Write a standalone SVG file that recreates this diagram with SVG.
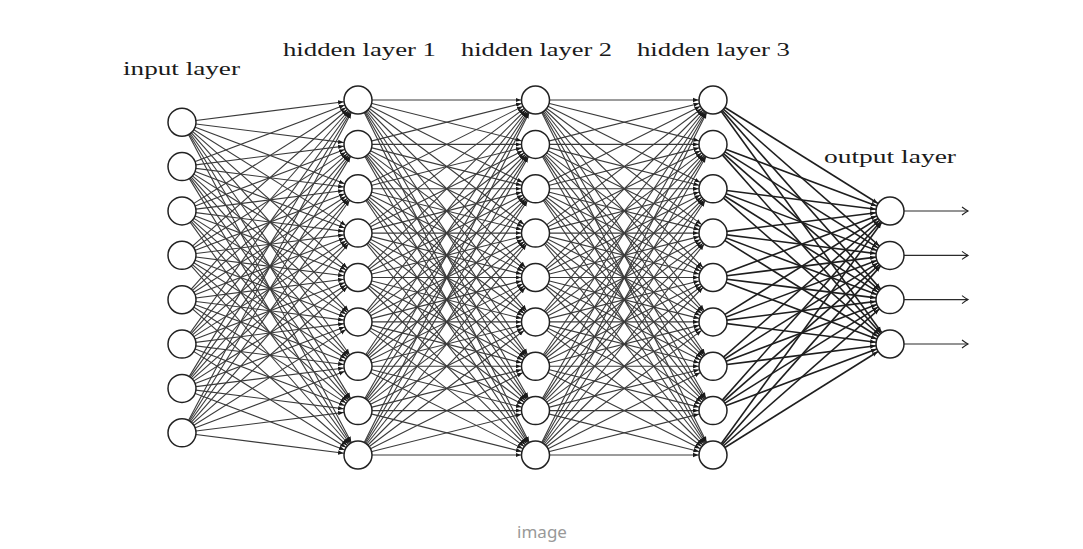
<svg xmlns="http://www.w3.org/2000/svg" width="1083" height="549" viewBox="0 0 1083 549">
<style>
.e path{fill:none;stroke:#3a3a3a;stroke-width:1.1;marker-end:url(#ah)}
.e2 path{fill:none;stroke:#1e1e1e;stroke-width:1.6;marker-end:url(#ah)}
.o path{fill:none;stroke:#2b2b2b;stroke-width:1.1;marker-end:url(#oa)}
.n circle{fill:#fff;stroke:#222;stroke-width:1.5}
.lbl{font-family:"Liberation Serif","DejaVu Serif",serif;font-size:18px;fill:#1a1a1a}
.cap{font-family:"Noto Sans","Liberation Sans",sans-serif;font-size:17px;fill:#999}
</style>
<defs>
<marker id="ah" markerUnits="userSpaceOnUse" markerWidth="20" markerHeight="6" viewBox="0 -3 20 6" refX="20" refY="0" orient="auto"><path d="M0,-2.2 L5.4,0 L0,2.2 z" fill="#1a1a1a"/></marker>
<marker id="oa" markerUnits="userSpaceOnUse" markerWidth="10" markerHeight="10" viewBox="-8 -5 10 10" refX="0" refY="0" orient="auto" overflow="visible"><path d="M-6,-4 Q-2,-1 0,0 Q-2,1 -6,4" fill="none" stroke="#222" stroke-width="1.1"/></marker>
</defs>
<rect width="1083" height="549" fill="#fff"/>
<g id="connectors">
<g class="e">
<path d="M182 122.2L358 100"/><path d="M182 122.2L358 144.4"/><path d="M182 122.2L358 188.8"/><path d="M182 122.2L358 233.1"/><path d="M182 122.2L358 277.5"/><path d="M182 122.2L358 321.9"/><path d="M182 122.2L358 366.3"/><path d="M182 122.2L358 410.6"/><path d="M182 122.2L358 455"/>
<path d="M182 166.6L358 100"/><path d="M182 166.6L358 144.4"/><path d="M182 166.6L358 188.8"/><path d="M182 166.6L358 233.1"/><path d="M182 166.6L358 277.5"/><path d="M182 166.6L358 321.9"/><path d="M182 166.6L358 366.3"/><path d="M182 166.6L358 410.6"/><path d="M182 166.6L358 455"/>
<path d="M182 210.9L358 100"/><path d="M182 210.9L358 144.4"/><path d="M182 210.9L358 188.8"/><path d="M182 210.9L358 233.1"/><path d="M182 210.9L358 277.5"/><path d="M182 210.9L358 321.9"/><path d="M182 210.9L358 366.3"/><path d="M182 210.9L358 410.6"/><path d="M182 210.9L358 455"/>
<path d="M182 255.3L358 100"/><path d="M182 255.3L358 144.4"/><path d="M182 255.3L358 188.8"/><path d="M182 255.3L358 233.1"/><path d="M182 255.3L358 277.5"/><path d="M182 255.3L358 321.9"/><path d="M182 255.3L358 366.3"/><path d="M182 255.3L358 410.6"/><path d="M182 255.3L358 455"/>
<path d="M182 299.7L358 100"/><path d="M182 299.7L358 144.4"/><path d="M182 299.7L358 188.8"/><path d="M182 299.7L358 233.1"/><path d="M182 299.7L358 277.5"/><path d="M182 299.7L358 321.9"/><path d="M182 299.7L358 366.3"/><path d="M182 299.7L358 410.6"/><path d="M182 299.7L358 455"/>
<path d="M182 344.1L358 100"/><path d="M182 344.1L358 144.4"/><path d="M182 344.1L358 188.8"/><path d="M182 344.1L358 233.1"/><path d="M182 344.1L358 277.5"/><path d="M182 344.1L358 321.9"/><path d="M182 344.1L358 366.3"/><path d="M182 344.1L358 410.6"/><path d="M182 344.1L358 455"/>
<path d="M182 388.4L358 100"/><path d="M182 388.4L358 144.4"/><path d="M182 388.4L358 188.8"/><path d="M182 388.4L358 233.1"/><path d="M182 388.4L358 277.5"/><path d="M182 388.4L358 321.9"/><path d="M182 388.4L358 366.3"/><path d="M182 388.4L358 410.6"/><path d="M182 388.4L358 455"/>
<path d="M182 432.8L358 100"/><path d="M182 432.8L358 144.4"/><path d="M182 432.8L358 188.8"/><path d="M182 432.8L358 233.1"/><path d="M182 432.8L358 277.5"/><path d="M182 432.8L358 321.9"/><path d="M182 432.8L358 366.3"/><path d="M182 432.8L358 410.6"/><path d="M182 432.8L358 455"/>

<path d="M358 100L535.5 100"/><path d="M358 100L535.5 144.4"/><path d="M358 100L535.5 188.8"/><path d="M358 100L535.5 233.1"/><path d="M358 100L535.5 277.5"/><path d="M358 100L535.5 321.9"/><path d="M358 100L535.5 366.3"/><path d="M358 100L535.5 410.6"/><path d="M358 100L535.5 455"/>
<path d="M358 144.4L535.5 100"/><path d="M358 144.4L535.5 144.4"/><path d="M358 144.4L535.5 188.8"/><path d="M358 144.4L535.5 233.1"/><path d="M358 144.4L535.5 277.5"/><path d="M358 144.4L535.5 321.9"/><path d="M358 144.4L535.5 366.3"/><path d="M358 144.4L535.5 410.6"/><path d="M358 144.4L535.5 455"/>
<path d="M358 188.8L535.5 100"/><path d="M358 188.8L535.5 144.4"/><path d="M358 188.8L535.5 188.8"/><path d="M358 188.8L535.5 233.1"/><path d="M358 188.8L535.5 277.5"/><path d="M358 188.8L535.5 321.9"/><path d="M358 188.8L535.5 366.3"/><path d="M358 188.8L535.5 410.6"/><path d="M358 188.8L535.5 455"/>
<path d="M358 233.1L535.5 100"/><path d="M358 233.1L535.5 144.4"/><path d="M358 233.1L535.5 188.8"/><path d="M358 233.1L535.5 233.1"/><path d="M358 233.1L535.5 277.5"/><path d="M358 233.1L535.5 321.9"/><path d="M358 233.1L535.5 366.3"/><path d="M358 233.1L535.5 410.6"/><path d="M358 233.1L535.5 455"/>
<path d="M358 277.5L535.5 100"/><path d="M358 277.5L535.5 144.4"/><path d="M358 277.5L535.5 188.8"/><path d="M358 277.5L535.5 233.1"/><path d="M358 277.5L535.5 277.5"/><path d="M358 277.5L535.5 321.9"/><path d="M358 277.5L535.5 366.3"/><path d="M358 277.5L535.5 410.6"/><path d="M358 277.5L535.5 455"/>
<path d="M358 321.9L535.5 100"/><path d="M358 321.9L535.5 144.4"/><path d="M358 321.9L535.5 188.8"/><path d="M358 321.9L535.5 233.1"/><path d="M358 321.9L535.5 277.5"/><path d="M358 321.9L535.5 321.9"/><path d="M358 321.9L535.5 366.3"/><path d="M358 321.9L535.5 410.6"/><path d="M358 321.9L535.5 455"/>
<path d="M358 366.3L535.5 100"/><path d="M358 366.3L535.5 144.4"/><path d="M358 366.3L535.5 188.8"/><path d="M358 366.3L535.5 233.1"/><path d="M358 366.3L535.5 277.5"/><path d="M358 366.3L535.5 321.9"/><path d="M358 366.3L535.5 366.3"/><path d="M358 366.3L535.5 410.6"/><path d="M358 366.3L535.5 455"/>
<path d="M358 410.6L535.5 100"/><path d="M358 410.6L535.5 144.4"/><path d="M358 410.6L535.5 188.8"/><path d="M358 410.6L535.5 233.1"/><path d="M358 410.6L535.5 277.5"/><path d="M358 410.6L535.5 321.9"/><path d="M358 410.6L535.5 366.3"/><path d="M358 410.6L535.5 410.6"/><path d="M358 410.6L535.5 455"/>
<path d="M358 455L535.5 100"/><path d="M358 455L535.5 144.4"/><path d="M358 455L535.5 188.8"/><path d="M358 455L535.5 233.1"/><path d="M358 455L535.5 277.5"/><path d="M358 455L535.5 321.9"/><path d="M358 455L535.5 366.3"/><path d="M358 455L535.5 410.6"/><path d="M358 455L535.5 455"/>

<path d="M535.5 100L713 100"/><path d="M535.5 100L713 144.4"/><path d="M535.5 100L713 188.8"/><path d="M535.5 100L713 233.1"/><path d="M535.5 100L713 277.5"/><path d="M535.5 100L713 321.9"/><path d="M535.5 100L713 366.3"/><path d="M535.5 100L713 410.6"/><path d="M535.5 100L713 455"/>
<path d="M535.5 144.4L713 100"/><path d="M535.5 144.4L713 144.4"/><path d="M535.5 144.4L713 188.8"/><path d="M535.5 144.4L713 233.1"/><path d="M535.5 144.4L713 277.5"/><path d="M535.5 144.4L713 321.9"/><path d="M535.5 144.4L713 366.3"/><path d="M535.5 144.4L713 410.6"/><path d="M535.5 144.4L713 455"/>
<path d="M535.5 188.8L713 100"/><path d="M535.5 188.8L713 144.4"/><path d="M535.5 188.8L713 188.8"/><path d="M535.5 188.8L713 233.1"/><path d="M535.5 188.8L713 277.5"/><path d="M535.5 188.8L713 321.9"/><path d="M535.5 188.8L713 366.3"/><path d="M535.5 188.8L713 410.6"/><path d="M535.5 188.8L713 455"/>
<path d="M535.5 233.1L713 100"/><path d="M535.5 233.1L713 144.4"/><path d="M535.5 233.1L713 188.8"/><path d="M535.5 233.1L713 233.1"/><path d="M535.5 233.1L713 277.5"/><path d="M535.5 233.1L713 321.9"/><path d="M535.5 233.1L713 366.3"/><path d="M535.5 233.1L713 410.6"/><path d="M535.5 233.1L713 455"/>
<path d="M535.5 277.5L713 100"/><path d="M535.5 277.5L713 144.4"/><path d="M535.5 277.5L713 188.8"/><path d="M535.5 277.5L713 233.1"/><path d="M535.5 277.5L713 277.5"/><path d="M535.5 277.5L713 321.9"/><path d="M535.5 277.5L713 366.3"/><path d="M535.5 277.5L713 410.6"/><path d="M535.5 277.5L713 455"/>
<path d="M535.5 321.9L713 100"/><path d="M535.5 321.9L713 144.4"/><path d="M535.5 321.9L713 188.8"/><path d="M535.5 321.9L713 233.1"/><path d="M535.5 321.9L713 277.5"/><path d="M535.5 321.9L713 321.9"/><path d="M535.5 321.9L713 366.3"/><path d="M535.5 321.9L713 410.6"/><path d="M535.5 321.9L713 455"/>
<path d="M535.5 366.3L713 100"/><path d="M535.5 366.3L713 144.4"/><path d="M535.5 366.3L713 188.8"/><path d="M535.5 366.3L713 233.1"/><path d="M535.5 366.3L713 277.5"/><path d="M535.5 366.3L713 321.9"/><path d="M535.5 366.3L713 366.3"/><path d="M535.5 366.3L713 410.6"/><path d="M535.5 366.3L713 455"/>
<path d="M535.5 410.6L713 100"/><path d="M535.5 410.6L713 144.4"/><path d="M535.5 410.6L713 188.8"/><path d="M535.5 410.6L713 233.1"/><path d="M535.5 410.6L713 277.5"/><path d="M535.5 410.6L713 321.9"/><path d="M535.5 410.6L713 366.3"/><path d="M535.5 410.6L713 410.6"/><path d="M535.5 410.6L713 455"/>
<path d="M535.5 455L713 100"/><path d="M535.5 455L713 144.4"/><path d="M535.5 455L713 188.8"/><path d="M535.5 455L713 233.1"/><path d="M535.5 455L713 277.5"/><path d="M535.5 455L713 321.9"/><path d="M535.5 455L713 366.3"/><path d="M535.5 455L713 410.6"/><path d="M535.5 455L713 455"/>
</g>
<g class="e2">
<path d="M713 100L890 211"/><path d="M713 100L890 255.4"/><path d="M713 100L890 299.6"/><path d="M713 100L890 344"/>
<path d="M713 144.4L890 211"/><path d="M713 144.4L890 255.4"/><path d="M713 144.4L890 299.6"/><path d="M713 144.4L890 344"/>
<path d="M713 188.8L890 211"/><path d="M713 188.8L890 255.4"/><path d="M713 188.8L890 299.6"/><path d="M713 188.8L890 344"/>
<path d="M713 233.1L890 211"/><path d="M713 233.1L890 255.4"/><path d="M713 233.1L890 299.6"/><path d="M713 233.1L890 344"/>
<path d="M713 277.5L890 211"/><path d="M713 277.5L890 255.4"/><path d="M713 277.5L890 299.6"/><path d="M713 277.5L890 344"/>
<path d="M713 321.9L890 211"/><path d="M713 321.9L890 255.4"/><path d="M713 321.9L890 299.6"/><path d="M713 321.9L890 344"/>
<path d="M713 366.3L890 211"/><path d="M713 366.3L890 255.4"/><path d="M713 366.3L890 299.6"/><path d="M713 366.3L890 344"/>
<path d="M713 410.6L890 211"/><path d="M713 410.6L890 255.4"/><path d="M713 410.6L890 299.6"/><path d="M713 410.6L890 344"/>
<path d="M713 455L890 211"/><path d="M713 455L890 255.4"/><path d="M713 455L890 299.6"/><path d="M713 455L890 344"/>
</g>
<g class="o">
<path d="M890 211L968 211"/><path d="M890 255.4L968 255.4"/><path d="M890 299.6L968 299.6"/><path d="M890 344L968 344"/>
</g>
</g>
<g class="n">
<g id="in1"><circle cx="182" cy="122.2" r="14"/></g>
<g id="in2"><circle cx="182" cy="166.6" r="14"/></g>
<g id="in3"><circle cx="182" cy="210.9" r="14"/></g>
<g id="in4"><circle cx="182" cy="255.3" r="14"/></g>
<g id="in5"><circle cx="182" cy="299.7" r="14"/></g>
<g id="in6"><circle cx="182" cy="344.1" r="14"/></g>
<g id="in7"><circle cx="182" cy="388.4" r="14"/></g>
<g id="in8"><circle cx="182" cy="432.8" r="14"/></g>
<g id="h1n1"><circle cx="358" cy="100" r="14"/></g>
<g id="h1n2"><circle cx="358" cy="144.4" r="14"/></g>
<g id="h1n3"><circle cx="358" cy="188.8" r="14"/></g>
<g id="h1n4"><circle cx="358" cy="233.1" r="14"/></g>
<g id="h1n5"><circle cx="358" cy="277.5" r="14"/></g>
<g id="h1n6"><circle cx="358" cy="321.9" r="14"/></g>
<g id="h1n7"><circle cx="358" cy="366.3" r="14"/></g>
<g id="h1n8"><circle cx="358" cy="410.6" r="14"/></g>
<g id="h1n9"><circle cx="358" cy="455" r="14"/></g>
<g id="h2n1"><circle cx="535.5" cy="100" r="14"/></g>
<g id="h2n2"><circle cx="535.5" cy="144.4" r="14"/></g>
<g id="h2n3"><circle cx="535.5" cy="188.8" r="14"/></g>
<g id="h2n4"><circle cx="535.5" cy="233.1" r="14"/></g>
<g id="h2n5"><circle cx="535.5" cy="277.5" r="14"/></g>
<g id="h2n6"><circle cx="535.5" cy="321.9" r="14"/></g>
<g id="h2n7"><circle cx="535.5" cy="366.3" r="14"/></g>
<g id="h2n8"><circle cx="535.5" cy="410.6" r="14"/></g>
<g id="h2n9"><circle cx="535.5" cy="455" r="14"/></g>
<g id="h3n1"><circle cx="713" cy="100" r="14"/></g>
<g id="h3n2"><circle cx="713" cy="144.4" r="14"/></g>
<g id="h3n3"><circle cx="713" cy="188.8" r="14"/></g>
<g id="h3n4"><circle cx="713" cy="233.1" r="14"/></g>
<g id="h3n5"><circle cx="713" cy="277.5" r="14"/></g>
<g id="h3n6"><circle cx="713" cy="321.9" r="14"/></g>
<g id="h3n7"><circle cx="713" cy="366.3" r="14"/></g>
<g id="h3n8"><circle cx="713" cy="410.6" r="14"/></g>
<g id="h3n9"><circle cx="713" cy="455" r="14"/></g>
<g id="out1"><circle cx="890" cy="211" r="14"/></g>
<g id="out2"><circle cx="890" cy="255.4" r="14"/></g>
<g id="out3"><circle cx="890" cy="299.6" r="14"/></g>
<g id="out4"><circle cx="890" cy="344" r="14"/></g>
</g>
<g id="labels">
<text class="lbl" x="123" y="75" textLength="117" lengthAdjust="spacingAndGlyphs">input layer</text>
<text class="lbl" x="283" y="56" textLength="153" lengthAdjust="spacingAndGlyphs">hidden layer 1</text>
<text class="lbl" x="461" y="56" textLength="151" lengthAdjust="spacingAndGlyphs">hidden layer 2</text>
<text class="lbl" x="637" y="56" textLength="153" lengthAdjust="spacingAndGlyphs">hidden layer 3</text>
<text class="lbl" x="824" y="163" textLength="132" lengthAdjust="spacingAndGlyphs">output layer</text>
<text class="cap" x="542" y="538" text-anchor="middle">image</text>
</g>
</svg>
